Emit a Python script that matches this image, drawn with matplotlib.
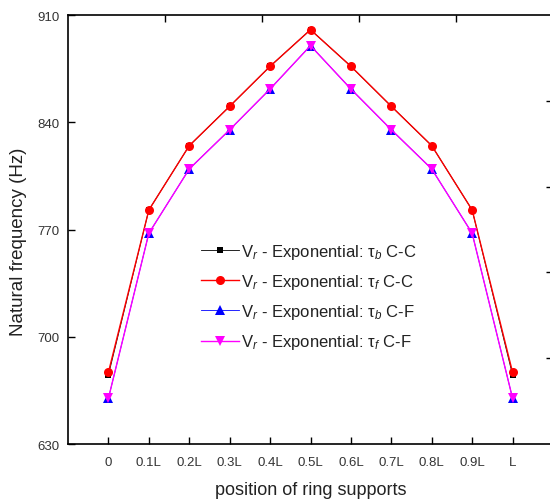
import matplotlib
matplotlib.use("Agg")
import matplotlib.pyplot as plt
import numpy as np

plt.rcParams['font.family'] = ['Liberation Sans', 'DejaVu Sans']
plt.rcParams['mathtext.fontset'] = 'custom'
plt.rcParams['mathtext.rm'] = 'Liberation Sans'
plt.rcParams['mathtext.it'] = 'Liberation Sans:italic'
plt.rcParams['mathtext.default'] = 'regular'

positions = ['0', '0.1L', '0.2L', '0.3L', '0.4L', '0.5L', '0.6L', '0.7L', '0.8L', '0.9L', 'L']
tau_b_CC = [675.0, 782.7, 824.7, 850.4, 876.5, 900.4, 876.5, 850.4, 824.7, 782.7, 675.0]
tau_f_CC = [676.8, 782.7, 824.7, 850.4, 876.5, 900.4, 876.5, 850.4, 824.7, 782.7, 676.8]
tau_b_CF = [659.8, 767.5, 809.5, 835.1, 861.7, 890.0, 861.7, 835.1, 809.5, 767.5, 659.8]
tau_f_CF = [659.8, 767.5, 809.5, 835.1, 861.7, 890.0, 861.7, 835.1, 809.5, 767.5, 659.8]
labels = [r'V$_{\it r}$ - Exponential: $\tau_{\it b}$ C-C',
          r'V$_{\it r}$ - Exponential: $\tau_{\it f}$ C-C',
          r'V$_{\it r}$ - Exponential: $\tau_{\it b}$ C-F',
          r'V$_{\it r}$ - Exponential: $\tau_{\it f}$ C-F']
yticks = [630, 700, 770, 840, 910]

fig = plt.figure(figsize=(5.5, 5.02), dpi=100)
pos = [68/550, 57/502, 485/550, 429/502]
ax = fig.add_axes(pos)
x = np.arange(len(positions))

styles = [('black', 's', 5.0, 0.6), ('red', 'o', 6.5, 1.0),
          ('blue', '^', 7.0, 0.6), ('magenta', 'v', 7.0, 1.0)]
for ys, (c, m, ms, lw), lab in zip([tau_b_CC, tau_f_CC, tau_b_CF, tau_f_CF], styles, labels):
    ax.plot(x, ys, color=c, marker=m, markersize=ms, linewidth=lw, label=lab,
            markeredgewidth=0)

ax.set_xlim(-1, 11)
ax.set_ylim(630, 910)
ax.set_xticks(x)
ax.set_xticklabels(positions)
ax.set_yticks(yticks)
ax.tick_params(direction='in', length=5, width=1, labelsize=9.5, labelcolor='#333333',
               top=False, right=False)
ax.tick_params(axis='x', pad=9)
ax.tick_params(axis='y', pad=6)
for s in ax.spines.values():
    s.set_linewidth(1.2)
ax.set_xlabel('position of ring supports', fontsize=13, color='#222222', labelpad=9)
ax.set_ylabel('Natural frequency (Hz)', fontsize=13.5, color='#222222')
ax.yaxis.set_label_coords(-0.085, 0.474)

ax2 = fig.add_axes(pos, frameon=False)
ax2.set_xlim(0, 5)
ax2.set_ylim(0, 5)
ax2.set_xticks([1, 2, 3, 4])
ax2.set_yticks([1, 2, 3, 4])
ax2.tick_params(direction='in', length=5, width=1, top=True, right=True,
                bottom=False, left=False, labeltop=False, labelright=False,
                labelbottom=False, labelleft=False)
ax2.patch.set_visible(False)

leg = ax.legend(loc='upper left', bbox_to_anchor=(0.274, 0.471), frameon=False,
                fontsize=12, handlelength=2.3, handletextpad=0.12, labelspacing=0.67,
                borderpad=0, borderaxespad=0)
for t in leg.get_texts():
    t.set_color('#222222')

fig.savefig('out.png', dpi=100)
